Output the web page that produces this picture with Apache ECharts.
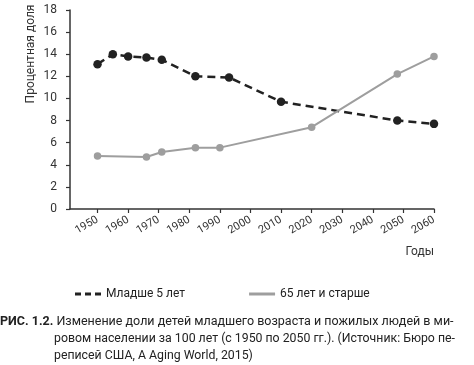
<!DOCTYPE html>
<html>
<head>
<meta charset="utf-8">
<script src="https://cdn.jsdelivr.net/npm/echarts@6/dist/echarts.min.js"></script>
<style>
html,body{margin:0;padding:0;background:#fff;}
#c{width:474px;height:365px;}
</style>
</head>
<body>
<div id="c"></div>
<script>
// Data
const youngYears = [1950, 1955, 1960, 1966, 1971, 1982, 1993, 2010, 2048, 2060];
const youngValues = [13.1, 14.0, 13.8, 13.7, 13.5, 12.0, 11.9, 9.7, 8.0, 7.7];
const oldYears = [1950, 1966, 1971, 1982, 1990, 2020, 2048, 2060];
const oldValues = [4.8, 4.7, 5.15, 5.55, 5.55, 7.4, 12.2, 13.8];
const xTickLabels = [1950, 1960, 1970, 1980, 1990, 2000, 2010, 2020, 2030, 2040, 2050, 2060];
const seriesNames = ['Младше 5 лет', '65 лет и старше'];
const yAxisTitle = 'Процентная доля';
const xAxisTitle = 'Годы';
const captionLead = 'РИС. 1.2.';
const captionLines = [
  'Изменение доли детей младшего возраста и пожилых людей в ми-',
  'ровом населении за 100 лет (с 1950 по 2050 гг.). (Источник: Бюро пе-',
  'реписей США, A Aging World, 2015)'
];

const FONT = 'Roboto';
const chart = echarts.init(document.getElementById('c'), null, {renderer: 'canvas'});

const pair = (xs, ys) => xs.map((x, i) => [x, ys[i]]);

chart.setOption({
  animation: false,
  backgroundColor: '#fff',
  textStyle: {fontFamily: FONT},
  grid: {left: 70, right: 40, top: 10, bottom: 156, containLabel: false},
  xAxis: {
    type: 'value',
    min: 1941,
    max: 2060,
    splitLine: {show: false},
    axisLine: {lineStyle: {color: '#333', width: 1.5}},
    axisTick: {show: true, length: 4, customValues: xTickLabels, lineStyle: {color: '#333', width: 1.2}},
    axisLabel: {
      customValues: xTickLabels,
      formatter: v => String(v),
      rotate: 30,
      margin: 10,
      color: '#333',
      fontSize: 11,
      fontFamily: FONT
    }
  },
  yAxis: {
    type: 'value',
    min: 0,
    max: 18,
    interval: 2,
    splitLine: {show: false},
    axisLine: {show: true, lineStyle: {color: '#333', width: 1.5}},
    axisTick: {show: true, length: 4, lineStyle: {color: '#333', width: 1.2}},
    axisLabel: {margin: 13, color: '#333', fontSize: 12, fontFamily: FONT}
  },
  legend: {
    left: 70,
    top: 283,
    itemWidth: 26,
    itemHeight: 3,
    itemGap: 64,
    textStyle: {color: '#222', fontSize: 12, fontFamily: FONT},
    data: [
      {name: seriesNames[0], icon: 'path://M0,0h6v3h-6z M10,0h6v3h-6z M20,0h6v3h-6z'},
      {name: seriesNames[1], icon: 'path://M0,0h26v3h-26z'}
    ]
  },
  series: [
    {
      name: seriesNames[0],
      type: 'line',
      data: pair(youngYears, youngValues),
      symbol: 'circle',
      symbolSize: 8.5,
      color: '#222',
      lineStyle: {color: '#222', width: 2.5, type: [8, 5]},
      itemStyle: {color: '#222'}
    },
    {
      name: seriesNames[1],
      type: 'line',
      data: pair(oldYears, oldValues),
      symbol: 'circle',
      symbolSize: 7.5,
      color: '#9e9e9e',
      lineStyle: {color: '#9e9e9e', width: 2},
      itemStyle: {color: '#9e9e9e'}
    }
  ],
  graphic: [
    {
      type: 'text',
      x: 31, y: 54,
      rotation: Math.PI / 2,
      style: {text: yAxisTitle, fill: '#333', fontSize: 12, fontFamily: FONT, align: 'center', verticalAlign: 'middle'}
    },
    {
      type: 'text',
      x: 434, y: 252,
      style: {text: xAxisTitle, fill: '#333', fontSize: 12, fontFamily: FONT, align: 'right', verticalAlign: 'middle'}
    },
    {
      type: 'text',
      x: 0, y: 322,
      style: {
        text: '{b|' + captionLead + '} ' + captionLines[0],
        fill: '#222', fontSize: 12.5, fontFamily: FONT, verticalAlign: 'middle',
        rich: {b: {fontWeight: 'bold', fontSize: 12.5, fontFamily: FONT, fill: '#222'}}
      }
    },
    {
      type: 'text',
      x: 54, y: 339,
      style: {text: captionLines[1], fill: '#222', fontSize: 12.3, fontFamily: FONT, verticalAlign: 'middle'}
    },
    {
      type: 'text',
      x: 54, y: 356,
      style: {text: captionLines[2], fill: '#222', fontSize: 12.3, fontFamily: FONT, verticalAlign: 'middle'}
    }
  ]
});
</script>
</body>
</html>
